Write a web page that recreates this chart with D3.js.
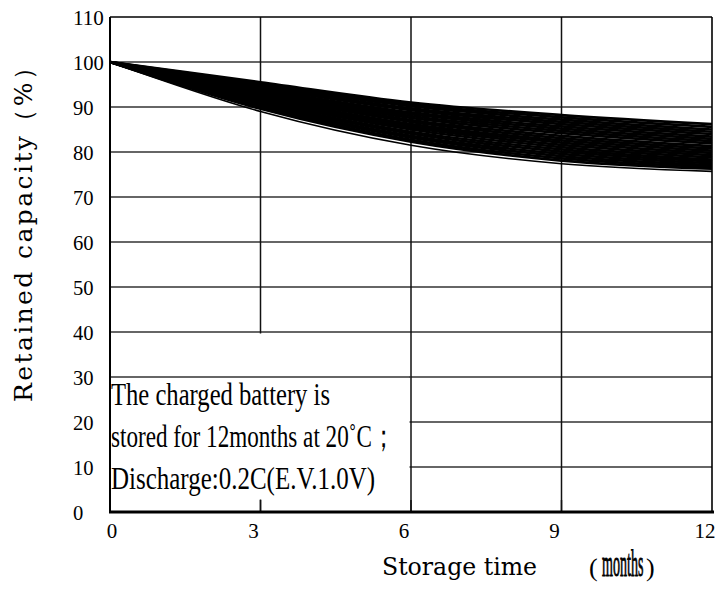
<!DOCTYPE html>
<html><head><meta charset="utf-8">
<script src="https://cdn.jsdelivr.net/npm/d3@7"></script>
<style>body{margin:0;background:#fff}svg{display:block}</style>
</head><body>
<svg id="c" width="724" height="592"></svg>
<script>
// ---- data ----
const months = [0, 3, 6, 9, 12];
const xTicks = [0, 3, 6, 9, 12];
const yTicks = [0, 10, 20, 30, 40, 50, 60, 70, 80, 90, 100, 110];
const retained = [
  [100, 95.5, 91.0, 88.2, 86.2],
  [100, 95.2, 90.6, 87.7, 85.6],
  [100, 94.9, 90.2, 87.2, 85.0],
  [100, 94.6, 89.7, 86.7, 84.5],
  [100, 94.3, 89.3, 86.2, 84.0],
  [100, 94.0, 88.8, 85.7, 83.4],
  [100, 93.8, 88.4, 85.2, 82.9],
  [100, 93.5, 88.0, 84.7, 82.4],
  [100, 93.2, 87.6, 84.2, 81.9],
  [100, 92.9, 87.1, 83.6, 81.3],
  [100, 92.6, 86.7, 83.1, 80.8],
  [100, 92.3, 86.2, 82.6, 80.3],
  [100, 92.0, 85.8, 82.1, 79.8],
  [100, 91.7, 85.4, 81.6, 79.3],
  [100, 91.4, 85.0, 81.1, 78.8],
  [100, 91.1, 84.5, 80.6, 78.3],
  [100, 90.8, 84.1, 80.1, 77.9],
  [100, 90.5, 83.6, 79.6, 77.5],
  [100, 90.2, 83.2, 79.1, 77.1],
  [100, 89.9, 82.7, 78.6, 76.7],
  [100, 89.6, 82.3, 78.1, 76.3],
  [100, 89.0, 81.5, 77.4, 75.7]
];
const noteLines = ["The charged battery is", "stored for 12months at 20˚C；", "Discharge:0.2C(E.V.1.0V)"];
const yTitle = "Retained capacity（%）";
const xTitleA = "Storage time";
const xTitleB = "months";

// ---- chart ----
const svg = d3.select("#c");
const x = d3.scaleLinear().domain([0, 12]).range([110, 712]);
const y = d3.scaleLinear().domain([0, 110]).range([512, 17]);
const serif = "'Liberation Serif','Times New Roman',serif";

// horizontal grid
svg.append("g").selectAll("line").data(yTicks.filter(d => d > 0 && d < 110)).join("line")
  .attr("x1", x(0)).attr("x2", x(12)).attr("y1", d => y(d)).attr("y2", d => y(d))
  .attr("stroke", "#333").attr("stroke-width", 1.6);
// vertical grid
svg.append("g").selectAll("line").data(xTicks.filter(d => d > 0 && d < 12)).join("line")
  .attr("x1", d => x(d)).attr("x2", d => x(d)).attr("y1", y(110)).attr("y2", y(0))
  .attr("stroke", "#111").attr("stroke-width", 1.5);

// note box (blank area)
svg.append("rect").attr("x", x(0) + 1).attr("y", y(40) + 1.5)
  .attr("width", x(6) - x(0) - 2.5).attr("height", y(0) - y(40) - 14).attr("fill", "#fff");
svg.append("line").attr("x1", x(0)).attr("x2", x(6)).attr("y1", y(30)).attr("y2", y(30))
  .attr("stroke", "#333").attr("stroke-width", 1.6);
// bottom ticks
svg.append("g").selectAll("line").data(xTicks.filter(d => d > 0 && d < 12)).join("line")
  .attr("x1", d => x(d)).attr("x2", d => x(d)).attr("y1", y(0) - 12).attr("y2", y(0))
  .attr("stroke", "#111").attr("stroke-width", 1.5);

// frame
svg.append("line").attr("x1", x(0)).attr("x2", x(12)).attr("y1", y(110)).attr("y2", y(110)).attr("stroke", "#000").attr("stroke-width", 1.6);
svg.append("line").attr("x1", x(12)).attr("x2", x(12)).attr("y1", y(110)).attr("y2", y(0)).attr("stroke", "#000").attr("stroke-width", 1.6);
svg.append("line").attr("x1", x(0)).attr("x2", x(0)).attr("y1", y(110)).attr("y2", y(0)).attr("stroke", "#000").attr("stroke-width", 2);
svg.append("line").attr("x1", x(0) - 1).attr("x2", x(12) + 2).attr("y1", y(0)).attr("y2", y(0)).attr("stroke", "#000").attr("stroke-width", 3);

// curves
const line = d3.line().x((d, i) => x(months[i])).y(d => y(d)).curve(d3.curveMonotoneX);
svg.append("g").selectAll("path").data(retained).join("path")
  .attr("d", line).attr("fill", "none").attr("stroke", "#000")
  .attr("stroke-width", (d, i) => i === retained.length - 1 ? 1.6 : 2.7);

// y tick labels
svg.append("g").selectAll("text").data(yTicks).join("text")
  .attr("x", 73).attr("y", d => y(d) + 7.5)
  .attr("font-family", serif).attr("font-size", 22)
  .attr("textLength", d => String(d).length * 10.3).attr("lengthAdjust", "spacingAndGlyphs")
  .text(d => d);

// x tick labels
svg.append("g").selectAll("text").data(xTicks).join("text")
  .attr("x", d => d === 0 ? x(d) + 2 : x(d) - 7).attr("y", y(0) + 26)
  .attr("text-anchor", "middle")
  .attr("font-family", serif).attr("font-size", 21)
  .text(d => d);

// note text
const noteLen = [219, 284, 264];
svg.append("g").selectAll("text").data(noteLines).join("text")
  .attr("x", x(0) + 1).attr("y", (d, i) => 405 + i * 42)
  .attr("font-family", serif).attr("font-size", 32)
  .attr("textLength", (d, i) => noteLen[i]).attr("lengthAdjust", "spacingAndGlyphs")
  .text(d => d);

// y title
svg.append("text").attr("transform", "translate(32,402) rotate(-90)")
  .attr("font-family", "'DejaVu Serif',serif").attr("font-size", 25)
  .attr("textLength", 347).attr("lengthAdjust", "spacing")
  .text(yTitle);

// x title
svg.append("text").attr("x", 382).attr("y", 575)
  .attr("font-family", "'DejaVu Serif',serif").attr("font-size", 25)
  .attr("textLength", 155).attr("lengthAdjust", "spacingAndGlyphs")
  .text(xTitleA);
svg.append("text").attr("x", 589).attr("y", 576)
  .attr("font-family", serif).attr("font-size", 26).text("(");
svg.append("text").attr("transform", "translate(602,576) scale(0.38,1)")
  .attr("font-family", serif).attr("font-size", 37)
  .attr("stroke", "#000").attr("stroke-width", 0.9).text(xTitleB);
svg.append("text").attr("x", 646).attr("y", 576)
  .attr("font-family", serif).attr("font-size", 26).text(")");
</script>
</body></html>
